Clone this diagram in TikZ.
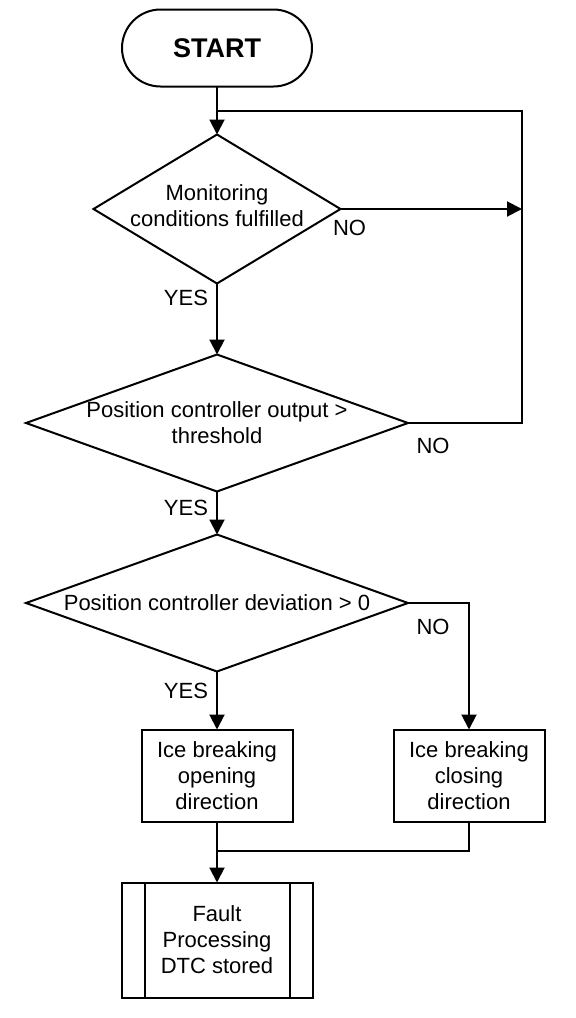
\documentclass[tikz,border=0pt]{standalone}
\usepackage{fontspec}
\setmainfont{Liberation Sans}
\usetikzlibrary{shapes.geometric, arrows.meta, positioning, calc}

\begin{document}
\begin{tikzpicture}[
  font=\fontsize{11pt}{13pt}\selectfont,
  line width=1pt,
  term/.style={draw, rounded corners=19.25pt, minimum width=95pt, minimum height=38.5pt,
               inner sep=0pt, outer sep=0pt, font=\fontsize{13.5pt}{16pt}\selectfont\bfseries},
  decision/.style={draw, diamond, inner sep=0pt, outer sep=0pt},
  act/.style={draw, align=center, minimum width=75.5pt, minimum height=46pt,
              inner sep=0pt, outer sep=0pt},
  subproc/.style={draw, align=center, minimum width=95.5pt, minimum height=57.5pt,
                  inner sep=0pt, outer sep=0pt,
                  path picture={
                    \draw[line width=1pt] ([xshift=11.5pt]path picture bounding box.north west)
                          -- ([xshift=11.5pt]path picture bounding box.south west);
                    \draw[line width=1pt] ([xshift=-11.5pt]path picture bounding box.north east)
                          -- ([xshift=-11.5pt]path picture bounding box.south east);}},
  lbl/.style={inner sep=0pt},
  arrow/.style={-{Triangle[length=7.5pt,width=7.5pt]}},
]
\useasboundingbox (0,0) rectangle (288pt,-509pt);

\node[term] (start) at (108.5pt,-24pt) {START};

% decisions
\node[decision, minimum width=123.5pt, minimum height=74.5pt, below=24pt of start,
      label={[align=center, yshift=1.75pt]center:Monitoring\\conditions fulfilled}] (mon) {};
\node[decision, minimum width=191pt, minimum height=68.5pt, below=35.5pt of mon,
      label={[align=center]center:Position controller output >\\threshold}] (outp) {};
\node[decision, minimum width=191pt, minimum height=68.5pt, below=21.5pt of outp,
      label={[align=center]center:Position controller deviation > 0}] (dev) {};

% actions
\node[act, below=29pt of dev] (open) {Ice breaking\\opening\\direction};
\node[act, right=50.5pt of open] (close) {Ice breaking\\closing\\direction};
\node[subproc, below=30.5pt of open] (fault) {Fault\\Processing\\DTC stored};

% helper points
\coordinate (join) at ($(start.south)!0.52!(mon.north)$);
\coordinate (loopR) at ($(outp.east)+(57pt,0)$);
\coordinate (merge) at ($(open.south)+(0,-14.5pt)$);

% connectors
\draw[arrow] (start) -- (mon);
\draw[arrow] (mon) -- (outp);
\draw[arrow] (outp) -- (dev);
\draw[arrow] (dev) -- (open);
\draw[arrow] (mon.east) -- (mon.east -| loopR);
\draw (outp.east) -- (loopR) -- (loopR |- join) -- (join);
\draw[arrow] (dev.east) -| (close.north);
\draw[arrow] (open) -- (fault);
\draw (close.south) |- (merge);

% labels
\node[lbl, below=5pt of mon.east, xshift=4.5pt] (no1) {NO};
\node[lbl, below=7pt of outp.east, xshift=12.5pt] (no2) {NO};
\node[lbl, below=7.5pt of dev.east, xshift=12.5pt] (no3) {NO};
\node[lbl, below=3pt of mon.south, xshift=-15.5pt] (yes1) {YES};
\node[lbl, below=4pt of outp.south, xshift=-15.5pt] (yes2) {YES};
\node[lbl, below=5.5pt of dev.south, xshift=-15.5pt] (yes3) {YES};
\end{tikzpicture}
\end{document}
